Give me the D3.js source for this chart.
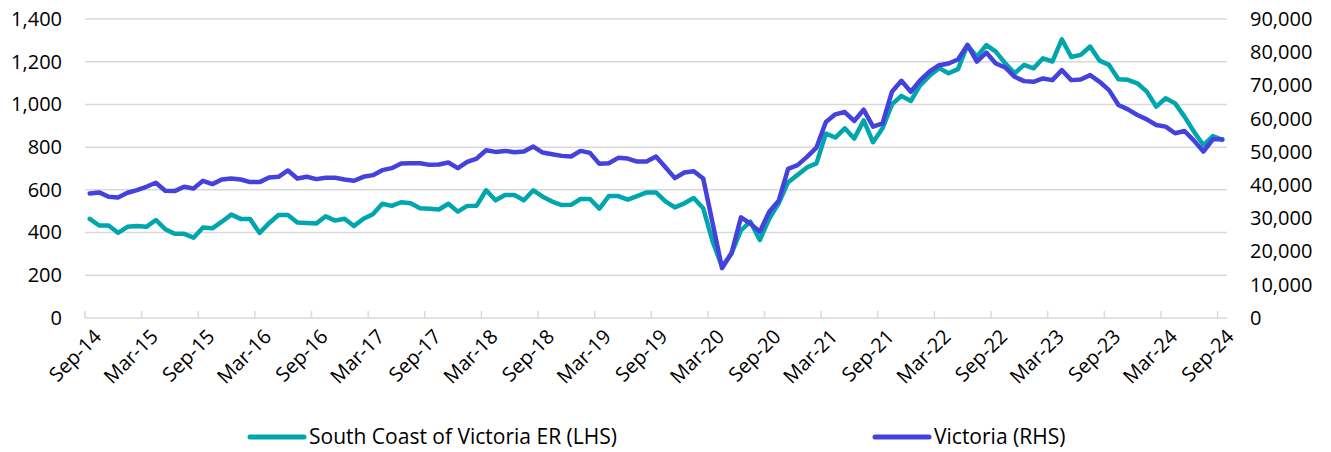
<!DOCTYPE html>
<html>
<head>
<meta charset="utf-8">
<script src="https://cdn.jsdelivr.net/npm/d3@7"></script>
<style>
  body { margin: 0; background: #fff; }
  text { font-family: "Open Sans", sans-serif; fill: #000; }
</style>
</head>
<body>
<svg id="chart" width="1331" height="452"></svg>
<script>
// monthly series, Sep-14 .. Sep-24
var southCoast = [
    464, 433, 433, 399, 427, 431, 427, 459, 416, 394, 394, 376,
    424, 420, 451, 484, 464, 463, 398, 444, 482, 482, 447, 445,
    442, 476, 456, 465, 431, 465, 486, 535, 525, 542, 537, 514,
    511, 508, 535, 498, 525, 526, 598, 551, 576, 576, 551, 598,
    568, 545, 529, 530, 557, 557, 512, 571, 571, 554, 571, 588,
    588, 546, 518, 537, 562, 514, 358, 240, 303, 410, 451, 365,
    466, 537, 636, 670, 705, 724, 863, 845, 888, 840, 925, 823,
    888, 1000, 1040, 1016, 1090, 1135, 1170, 1146, 1165, 1278, 1224, 1278,
    1247, 1193, 1146, 1185, 1169, 1216, 1201, 1305, 1222, 1232, 1271, 1205,
    1185, 1118, 1115, 1099, 1060, 990, 1029, 1005, 943, 872, 810, 852,
    834
];
var victoria = [
    37500, 37800, 36500, 36300, 37700, 38500, 39500, 40700, 38300, 38200, 39500, 39000,
    41300, 40300, 41700, 42000, 41700, 40900, 40900, 42300, 42500, 44400, 42000, 42500,
    41800, 42200, 42200, 41700, 41300, 42500, 43000, 44500, 45100, 46500, 46600, 46600,
    46100, 46200, 46800, 45100, 47000, 48000, 50500, 50000, 50300, 49900, 50100, 51600,
    49800, 49300, 48800, 48600, 50300, 49700, 46400, 46600, 48200, 48000, 47100, 47100,
    48600, 45400, 42100, 43800, 44200, 42000, 28500, 15000, 19500, 30300, 28400, 26000,
    32000, 35300, 44900, 46000, 48500, 51300, 59000, 61300, 62000, 59300, 62700, 57600,
    58600, 68100, 71400, 68100, 71600, 74200, 76100, 76600, 77800, 82200, 77200, 79900,
    76600, 75400, 72600, 71300, 71100, 72100, 71600, 74600, 71600, 71800, 73100, 71100,
    68600, 64100, 62800, 61100, 59800, 58100, 57600, 55600, 56300, 53400, 50100, 53800,
    53800
];
var months = d3.timeMonth.range(new Date(2014, 8, 1), new Date(2024, 9, 1));
var leftTicks = [0, 200, 400, 600, 800, 1000, 1200, 1400];
var rightTicks = [0, 10000, 20000, 30000, 40000, 50000, 60000, 70000, 80000, 90000];
var tickLabels = ["Sep-14", "Mar-15", "Sep-15", "Mar-16", "Sep-16", "Mar-17", "Sep-17",
    "Mar-18", "Sep-18", "Mar-19", "Sep-19", "Mar-20", "Sep-20", "Mar-21", "Sep-21",
    "Mar-22", "Sep-22", "Mar-23", "Sep-23", "Mar-24", "Sep-24"];
var seriesNames = ["South Coast of Victoria ER (LHS)", "Victoria (RHS)"];
var colors = ["#00a6ad", "#4441dd"];

var svg = d3.select('#chart');
var plotLeft = 85, plotRight = 1227, plotTop = 19, plotBottom = 318;

var x = d3.scaleBand().domain(d3.range(months.length)).range([plotLeft, plotRight]);
var yL = d3.scaleLinear().domain([0, 1400]).range([plotBottom, plotTop]);
var yR = d3.scaleLinear().domain([0, 90000]).range([plotBottom, plotTop]);
var cx = function (i) { return x(i) + x.bandwidth() / 2; };

// gridlines
svg.append('g').selectAll('line')
    .data(leftTicks)
    .enter().append('line')
    .attr('x1', plotLeft).attr('x2', plotRight)
    .attr('y1', function (d) { return yL(d); })
    .attr('y2', function (d) { return yL(d); })
    .style('stroke', '#d9d9d9')
    .style('stroke-width', 1.5);

// left axis
var axL = svg.append('g')
    .attr('transform', 'translate(' + plotLeft + ',0)')
    .call(d3.axisLeft(yL).tickValues(leftTicks).tickFormat(d3.format(',')).tickSize(0).tickPadding(23));
axL.select('.domain').remove();

// right axis
var axR = svg.append('g')
    .attr('transform', 'translate(' + plotRight + ',0)')
    .call(d3.axisRight(yR).tickValues(rightTicks).tickFormat(d3.format(',')).tickSize(0).tickPadding(23));
axR.select('.domain').remove();

svg.selectAll('.tick text')
    .style('font-size', '20px')
    .style('font-family', '"Open Sans", sans-serif')
    .style('fill', '#000');

// x tick marks every 6 months, pointing up
var tickIdx = d3.range(0, months.length, 6);
svg.append('g').selectAll('line')
    .data(tickIdx)
    .enter().append('line')
    .attr('x1', function (i) { return x(i); })
    .attr('x2', function (i) { return x(i); })
    .attr('y1', plotBottom).attr('y2', plotBottom - 7)
    .style('stroke', '#d9d9d9')
    .style('stroke-width', 1.5);

// x labels
svg.append('g').selectAll('text')
    .data(tickIdx)
    .enter().append('text')
    .attr('transform', function (i) { return 'translate(' + (cx(i) + 3) + ',' + (plotBottom + 10) + ') rotate(-45)'; })
    .attr('text-anchor', 'end')
    .attr('dy', '0.7em')
    .style('font-size', '20px')
    .text(function (i, k) { return tickLabels[k]; });

// series
var lineL = d3.line().x(function (d, i) { return cx(i); }).y(function (d) { return yL(d); });
var lineR = d3.line().x(function (d, i) { return cx(i); }).y(function (d) { return yR(d); });

svg.append('path')
    .datum(southCoast)
    .attr('d', lineL)
    .style('fill', 'none')
    .style('stroke', colors[0])
    .style('stroke-width', 4.5)
    .style('stroke-linejoin', 'round')
    .style('stroke-linecap', 'round');

svg.append('path')
    .datum(victoria)
    .attr('d', lineR)
    .style('fill', 'none')
    .style('stroke', colors[1])
    .style('stroke-width', 4.5)
    .style('stroke-linejoin', 'round')
    .style('stroke-linecap', 'round');

// legend
var legendX = [250, 875];
var legend = svg.append('g').selectAll('g')
    .data(seriesNames)
    .enter().append('g')
    .attr('transform', function (d, i) { return 'translate(' + legendX[i] + ',437)'; });
legend.append('line')
    .attr('x1', 0).attr('x2', 54)
    .style('stroke', function (d, i) { return colors[i]; })
    .style('stroke-width', 5)
    .style('stroke-linecap', 'round');
legend.append('text')
    .attr('x', 59)
    .attr('dy', '0.35em')
    .style('font-size', '21px')
    .text(function (d) { return d; });
</script>
</body>
</html>
